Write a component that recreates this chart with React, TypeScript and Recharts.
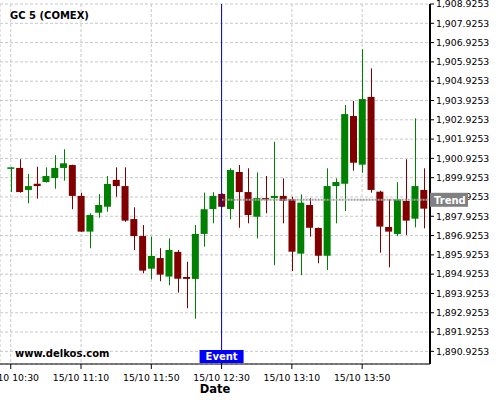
import React from "react";
import {
  ComposedChart,
  Bar,
  XAxis,
  YAxis,
  CartesianGrid,
  ReferenceLine,
} from "recharts";

// 5 minute candles, GC 5 (COMEX), 15/10
const times = [
  "10:30", "10:35", "10:40", "10:45", "10:50", "10:55", "11:00", "11:05",
  "11:10", "11:15", "11:20", "11:25", "11:30", "11:35", "11:40", "11:45",
  "11:50", "11:55", "12:00", "12:05", "12:10", "12:15", "12:20", "12:25",
  "12:30", "12:35", "12:40", "12:45", "12:50", "12:55", "13:00", "13:05",
  "13:10", "13:15", "13:20", "13:25", "13:30", "13:35", "13:40", "13:45",
  "13:50", "13:55", "14:00", "14:05", "14:10", "14:15", "14:20", "14:25",
];
const opens = [
  1900.43, 1900.43, 1899.29, 1899.61, 1899.7, 1899.91, 1900.43, 1900.58,
  1898.98, 1897.13, 1898.11, 1898.42, 1899.81, 1899.49, 1897.78, 1896.9,
  1895.21, 1895.76, 1894.8, 1896.08, 1894.78, 1894.68, 1897.01, 1898.3,
  1899.08, 1898.3, 1900.22, 1899.18, 1897.9, 1898.87, 1898.87, 1898.98,
  1898.81, 1895.99, 1898.51, 1897.32, 1895.88, 1899.49, 1899.61, 1903.12,
  1900.6, 1904.11, 1899.2, 1897.37, 1897.01, 1898.72, 1897.8, 1899.29,
];
const highs = [
  1900.47, 1900.88, 1900.12, 1900.49, 1900.46, 1901.09, 1901.4, 1900.6,
  1899.15, 1898.08, 1899.08, 1900.01, 1900.46, 1900.46, 1898.39, 1897.47,
  1896.87, 1896.27, 1896.78, 1896.18, 1895.57, 1897.47, 1899.15, 1899.17,
  1899.11, 1900.41, 1900.58, 1900.41, 1900.2, 1900.01, 1901.79, 1899.89,
  1898.94, 1899.06, 1898.86, 1897.34, 1900.41, 1899.89, 1903.69, 1903.9,
  1906.58, 1905.59, 1899.25, 1898.8, 1899.69, 1900.88, 1903.0, 1900.41,
];
const lows = [
  1899.18, 1899.15, 1898.6, 1898.84, 1899.67, 1899.35, 1899.77, 1898.29,
  1897.11, 1896.27, 1897.85, 1898.16, 1898.94, 1897.64, 1896.18, 1894.97,
  1894.66, 1894.56, 1894.35, 1893.97, 1893.16, 1892.62, 1896.35, 1897.56,
  1898.4, 1897.77, 1897.33, 1897.56, 1896.78, 1898.08, 1895.39, 1897.56,
  1895.09, 1894.87, 1896.87, 1895.49, 1895.14, 1897.56, 1898.2, 1900.29,
  1900.18, 1899.15, 1896.04, 1895.28, 1896.9, 1896.96, 1897.35, 1897.3,
];
const closes = [
  1900.46, 1899.18, 1899.49, 1899.49, 1900.01, 1900.43, 1900.67, 1898.98,
  1897.13, 1897.99, 1898.51, 1899.6, 1899.49, 1897.7, 1896.9, 1895.11,
  1895.87, 1894.9, 1896.18, 1894.69, 1894.68, 1897.01, 1898.29, 1898.98,
  1898.42, 1900.32, 1899.18, 1897.99, 1898.87, 1898.82, 1898.98, 1898.73,
  1896.09, 1898.63, 1897.33, 1895.88, 1899.49, 1899.7, 1903.22, 1900.7,
  1904.0, 1899.29, 1897.39, 1897.13, 1898.8, 1897.7, 1899.49, 1898.32,
];

const xTickTimes = ["10:30", "11:10", "11:50", "12:30", "13:10", "13:50"];
const xTickLabels = ["15/10 10:30", "15/10 11:10", "15/10 11:50", "15/10 12:30", "15/10 13:10", "15/10 13:50"];
const yTicks = [
  1890.9253, 1891.9253, 1892.9253, 1893.9253, 1894.9253, 1895.9253, 1896.9253,
  1897.9253, 1898.9253, 1899.9253, 1900.9253, 1901.9253, 1902.9253, 1903.9253,
  1904.9253, 1905.9253, 1906.9253, 1907.9253, 1908.9253,
];
const eventTime = "12:30";
const trendValue = 1898.78;

const GREEN = "#008000";
const RED = "#800000";
const FONT = "DejaVu Sans";

// minutes after 10:00
const toMin = (s: string) => {
  const [h, m] = s.split(":").map(Number);
  return (h - 10) * 60 + m;
};

const data = times.map((t, i) => ({
  t: toMin(t),
  open: opens[i],
  high: highs[i],
  low: lows[i],
  close: closes[i],
}));

const xMin = 23.9;
const xMax = 268.6;
const yMin = 1890.27;
const yMax = 1908.9253;

const xTicks = xTickTimes.map(toMin);
const xMinor: number[] = [];
for (let m = 30; m < xMax; m += 10) xMinor.push(m);
const yMinor: number[] = [];
for (let v = 1890.3253; v < yMax; v += 0.2) yMinor.push(Number(v.toFixed(4)));

const fmtY = (v: number) => {
  const [i, d] = v.toFixed(4).split(".");
  return i.replace(/\B(?=(\d{3})+(?!\d))/g, ",") + "." + d;
};
const fmtX = (v: number) => xTickLabels[xTicks.indexOf(v)] ?? "";

const Candle = (props: any) => {
  const { x, y, width, height, payload } = props;
  const { open, close, high, low } = payload;
  const h = Math.abs(height);
  const top0 = height < 0 ? y + height : y;
  const ppu = h / (high - low);
  const toY = (v: number) => top0 + (high - v) * ppu;
  const top = toY(Math.max(open, close));
  const bot = toY(Math.min(open, close));
  const color = close >= open ? GREEN : RED;
  const cx = Math.round(x + width / 2) + 0.5;
  return (
    <g>
      <line x1={cx} x2={cx} y1={top0} y2={top0 + h} stroke={color} strokeWidth={1} />
      <rect x={x} y={top} width={width} height={Math.max(1.5, bot - top)} fill={color} />
    </g>
  );
};

const EventLabel = (props: any) => {
  const { x, y, height } = props.viewBox;
  return (
    <g>
      <rect x={x - 22} y={y + height - 14} width={44} height={13} fill="#0000ff" />
      <text x={x} y={y + height - 4} textAnchor="middle" fill="#fff" fontSize={10} fontWeight="bold" fontFamily={FONT}>
        Event
      </text>
    </g>
  );
};

const TrendLabel = (props: any) => {
  const { x, y, width } = props.viewBox;
  return (
    <g>
      <rect x={x + width} y={y - 7} width={38} height={14} fill="#808080" />
      <text x={x + width + 4} y={y + 4} fill="#fff" fontSize={10} fontWeight="bold" fontFamily={FONT}>
        Trend
      </text>
    </g>
  );
};

const tickStyle = { fontSize: 9.3, fill: "#000", fontFamily: FONT };

export default function App() {
  return (
    <div style={{ position: "absolute", left: 0, top: 0, width: 500, height: 400, background: "#fff" }}>
      <ComposedChart width={500} height={400} data={data} margin={{ top: 4, right: 0, bottom: 0, left: 0 }}>
        <CartesianGrid stroke="#c8c8c8" strokeDasharray="3 2" />
        <XAxis
          dataKey="t"
          type="number"
          domain={[xMin, xMax]}
          allowDataOverflow
          ticks={xTicks}
          tickFormatter={fmtX}
          height={36}
          tickSize={5}
          tickMargin={5}
          interval={0}
          axisLine={{ stroke: "#000" }}
          tickLine={{ stroke: "#000" }}
          tick={tickStyle}
          label={{ value: "Date", position: "insideBottom", offset: 7, fontSize: 11.5, fontWeight: "bold", fill: "#000", fontFamily: FONT }}
        />
        <XAxis
          xAxisId="minor"
          type="number"
          domain={[xMin, xMax]}
          allowDataOverflow
          ticks={xMinor}
          interval={0}
          height={0}
          tickSize={3}
          tick={false}
          axisLine={false}
          tickLine={{ stroke: "#000" }}
        />
        <YAxis
          yAxisId="minor"
          orientation="right"
          type="number"
          domain={[yMin, yMax]}
          allowDataOverflow
          ticks={yMinor}
          interval={0}
          width={0}
          tickSize={2}
          tick={false}
          axisLine={false}
          tickLine={{ stroke: "#000" }}
        />
        <YAxis
          orientation="right"
          type="number"
          domain={[yMin, yMax]}
          allowDataOverflow
          ticks={yTicks}
          interval={0}
          width={70}
          tickSize={4}
          tickMargin={2}
          tickFormatter={fmtY}
          axisLine={{ stroke: "#000", strokeWidth: 2 }}
          tickLine={{ stroke: "#000" }}
          tick={tickStyle}
        />
        <Bar
          dataKey={(d: any) => [d.low, d.high]}
          barSize={7}
          shape={Candle}
          isAnimationActive={false}
        />
        <ReferenceLine
          segment={[
            { x: toMin(eventTime), y: trendValue },
            { x: xMax, y: trendValue },
          ]}
          stroke="#a0a0a0"
          strokeWidth={2}
          strokeDasharray="2 1"
        />
        <ReferenceLine x={toMin(eventTime)} stroke="#0000cc" strokeWidth={1} label={(p: any) => <EventLabel {...p} />} />
        <ReferenceLine
          y={trendValue}
          stroke="none"
          zIndex={2000}
          label={{ content: (p: any) => <TrendLabel {...p} />, zIndex: 2000 } as any}
        />
      </ComposedChart>
      <svg width={500} height={400} style={{ position: "absolute", left: 0, top: 0, pointerEvents: "none" }}>
        <text x={10} y={19} fontSize={10} fontWeight="bold" fontFamily={FONT} fill="#000">
          GC 5 (COMEX)
        </text>
        <text x={15} y={357} fontSize={10} fontWeight="bold" fontFamily={FONT} fill="#000">
          www.delkos.com
        </text>
      </svg>
    </div>
  );
}
